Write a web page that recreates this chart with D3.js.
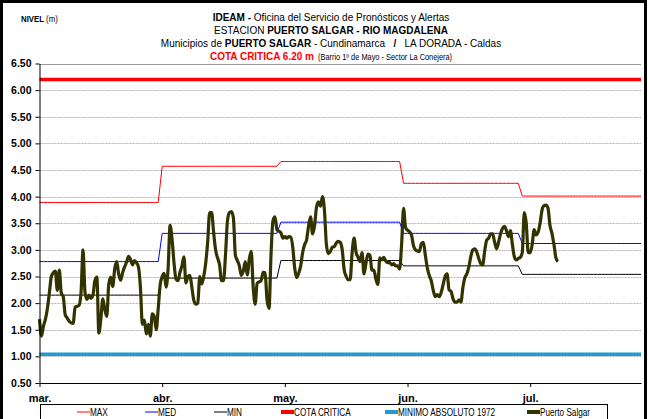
<!DOCTYPE html>
<html>
<head>
<meta charset="utf-8">
<script src="https://cdn.jsdelivr.net/npm/d3@7"></script>
<style>
  body { margin: 0; background: #fff; }
  svg { display: block; font-family: Arial, "Liberation Sans", sans-serif; }
</style>
</head>
<body>
<div id="chart"></div>
<script>
// monthly reference levels (m)
const months = ['mar.', 'abr.', 'may.', 'jun.', 'jul.'];
const maxLevels = [3.89, 4.57, 4.66, 4.25, 4.01];
const medLevels = [2.78, 3.31, 3.52, 3.31, 3.12];
const minLevels = [2.15, 2.47, 2.80, 2.70, 2.54];
const cotaCritica = 6.20;
const minimoAbsoluto = 1.04;
const yTicks = [0.5, 1, 1.5, 2, 2.5, 3, 3.5, 4, 4.5, 5, 5.5, 6, 6.5];

// Puerto Salgar readings, two a day from 1 March
const salgarLevels = [
  1.70, 1.38, 1.57, 1.70, 1.90, 2.20, 2.50, 2.57, 2.60, 2.24, 2.62, 2.19, 2.12, 1.78, 1.72, 1.66, 1.63, 1.62, 1.92, 1.94,
  1.96, 2.20, 3.00, 2.20, 2.07, 2.15, 2.09, 2.15, 2.42, 2.49, 1.44, 1.70, 2.08, 1.88, 1.75, 2.35, 2.49, 2.31, 2.64, 2.78,
  2.55, 2.43, 2.57, 2.68, 2.77, 2.88, 2.82, 2.72, 2.80, 2.76, 2.68, 2.30, 1.60, 1.68, 1.42, 1.60, 1.38, 1.80, 1.75, 1.50,
  1.90, 2.35, 2.50, 2.56, 2.30, 2.65, 3.46, 3.20, 2.75, 2.45, 2.42, 2.58, 2.70, 2.87, 2.38, 2.50, 2.52, 2.30, 2.05, 1.98,
  2.00, 2.50, 2.36, 2.50, 2.75, 3.15, 3.70, 3.70, 3.33, 3.00, 2.85, 2.72, 2.42, 2.42, 2.90, 3.55, 3.70, 3.72, 3.60, 2.90,
  2.80, 2.70, 2.52, 2.60, 2.78, 2.53, 2.82, 2.97, 2.30, 1.98, 2.37, 2.40, 2.42, 2.58, 2.57, 2.06, 1.90, 2.90, 3.55, 3.62,
  3.38, 3.35, 3.32, 3.22, 3.25, 3.22, 3.25, 3.24, 3.05, 2.65, 2.48, 2.56, 2.70, 2.95, 3.10, 3.19, 3.45, 3.62, 3.30, 3.45,
  3.80, 3.90, 3.82, 4.00, 3.75, 3.10, 2.93, 2.97, 3.05, 3.06, 3.13, 3.16, 3.14, 3.00, 2.62, 2.50, 2.44, 2.44, 2.95, 3.22,
  2.95, 2.86, 2.78, 2.95, 2.55, 2.75, 2.92, 2.90, 2.62, 2.62, 2.45, 2.35, 2.85, 2.81, 2.86, 2.79, 2.76, 2.76, 2.72, 2.74,
  2.70, 2.70, 2.64, 3.10, 3.78, 3.42, 3.37, 3.34, 3.28, 3.08, 3.00, 2.98, 2.97, 3.12, 3.14, 2.90, 2.66, 2.52, 2.42, 2.24,
  2.12, 2.16, 2.12, 2.20, 2.35, 2.50, 2.55, 2.25, 2.22, 2.08, 2.02, 2.02, 2.06, 2.02, 2.30, 2.48, 2.55, 2.68, 2.88, 3.00,
  3.02, 2.96, 2.84, 2.74, 2.72, 2.98, 3.18, 3.22, 3.30, 3.30, 3.15, 3.02, 3.14, 3.30, 3.40, 3.44, 3.36, 3.25, 3.36, 3.10,
  2.87, 2.81, 2.84, 2.86, 2.95, 3.70, 3.50, 2.95, 2.95, 3.10, 3.38, 3.28, 3.33, 3.50, 3.75, 3.83, 3.84, 3.78, 3.46, 3.31,
  3.10, 2.85, 2.78
];

const width = 648;
const height = 419;
const margins = {left: 39.5, right: 7, top: 63.5, bottom: 36};

const start = new Date(2011, 2, 1);
const end = new Date(2011, 6, 31);

const svg = d3.select('#chart')
  .append('svg')
  .attr('width', width)
  .attr('height', height);

// outer frame
svg.append('rect')
  .attr('x', 1.5).attr('y', 1.5)
  .attr('width', width - 4).attr('height', height + 20)
  .attr('fill', 'none').attr('stroke', '#000').attr('stroke-width', 3);

const x = d3.scaleTime()
  .domain([start, end])
  .range([margins.left, width - margins.right]);

const y = d3.scaleLinear()
  .domain([0.5, 6.5])
  .range([height - margins.bottom, margins.top]);

// grid lines
svg.append('g')
  .selectAll('line')
  .data(yTicks.filter((d) => d > 0.5))
  .join('line')
  .attr('x1', margins.left).attr('x2', width - margins.right)
  .attr('y1', (d) => Math.round(y(d)) + 0.5).attr('y2', (d) => Math.round(y(d)) + 0.5)
  .attr('stroke', (d) => (d === 6.5 ? '#999' : '#b4b4b4'))
  .attr('stroke-dasharray', (d) => (d === 6.5 ? null : '2,1'))
  .attr('stroke-width', 1);

// monthly step series built from the monthly values
const days = d3.timeDay.range(start, d3.timeDay.offset(end, 1));
const monthly = (vals) => days.map((d) => ({date: d, v: vals[d.getMonth() - 2]}));

const line = d3.line().x((d) => x(d.date)).y((d) => y(d.v));

const drawLine = (data, color, w, curve) => {
  svg.append('path')
    .datum(data)
    .attr('fill', 'none')
    .attr('stroke', color)
    .attr('stroke-width', w)
    .attr('stroke-linejoin', 'round')
    .attr('d', line.curve(curve || d3.curveLinear)(data));
};

drawLine(monthly(maxLevels), '#ff0000', 1);
drawLine(monthly(medLevels), '#0000ff', 1);
drawLine(monthly(minLevels), '#000000', 1);
drawLine(days.map((d) => ({date: d, v: cotaCritica})), '#ff0000', 3.5);
drawLine(days.map((d) => ({date: d, v: minimoAbsoluto})), '#1f9bd1', 3.5);

const salgar = salgarLevels.map((v, i) => ({date: d3.timeHour.offset(start, 12 * i), v}));
drawLine(salgar, '#333300', 3.2, d3.curveMonotoneX);

// axes
const yAxis = svg.append('g')
  .attr('transform', `translate(${margins.left},0)`)
  .call(d3.axisLeft(y).tickValues(yTicks).tickFormat(d3.format('.2f')).tickSize(4).tickSizeOuter(0));

const tickDates = months.map((m, i) => d3.timeDay.offset(start, 31 * i));
const xAxis = svg.append('g')
  .attr('transform', `translate(0,${height - margins.bottom})`)
  .call(d3.axisBottom(x).tickValues(tickDates).tickFormat((d, i) => months[i]).tickSize(4).tickSizeOuter(0));

svg.selectAll('.domain, .tick line').attr('stroke', '#000');
yAxis.selectAll('text')
  .attr('font-size', '10.5px').attr('font-weight', 'bold')
  .attr('font-family', 'Arial, sans-serif').attr('fill', '#000').attr('x', -8);
xAxis.selectAll('text')
  .attr('font-size', '11px').attr('font-weight', 'bold')
  .attr('font-family', 'Arial, sans-serif').attr('fill', '#000').attr('dy', '1.1em');

// titles (condensed like Arial Narrow)
const cx = 331;
const squeeze = 0.87;
const title = (yy, parts, size = 11.5) => {
  const t = svg.append('text')
    .attr('transform', `translate(${cx},${yy}) scale(${squeeze},1)`)
    .attr('text-anchor', 'middle')
    .attr('font-size', size + 'px');
  parts.forEach(([txt, bold, color, fs]) => {
    t.append('tspan')
      .text(txt)
      .attr('font-weight', bold ? 'bold' : 'normal')
      .attr('fill', color || '#000')
      .attr('font-size', fs ? fs + 'px' : null);
  });
};

const nb = '\u00a0';
title(21, [['IDEAM - ', true], ['Oficina del Servicio de Pronósticos y Alertas', false]]);
title(34, [['ESTACION ', false], ['PUERTO SALGAR - RIO MAGDALENA', true]]);
title(47, [['Municipios de ', false], ['PUERTO SALGAR', true], [' - Cundinamarca' + nb + nb + nb, false], ['/', true], [nb + nb + nb + 'LA DORADA - Caldas', false]]);
title(60, [['COTA CRITICA 6.20 m', true, '#ff0000'], [nb + nb + '(Barrio 1º de Mayo - Sector La Conejera)', false, '#000', 8.5]]);

const nivel = svg.append('text')
  .attr('transform', 'translate(21,22) scale(0.87,1)')
  .attr('font-size', '9px');
nivel.append('tspan').text('NIVEL ').attr('font-weight', 'bold');
nivel.append('tspan').text('(m)');

// legend
const legendItems = [
  {label: 'MAX', color: '#ff0000', w: 1, x0: 77},
  {label: 'MED', color: '#0000ff', w: 1, x0: 145},
  {label: 'MIN', color: '#000000', w: 1, x0: 214},
  {label: 'COTA CRITICA', color: '#ff0000', w: 4, x0: 281},
  {label: 'MINIMO ABSOLUTO 1972', color: '#1f9bd1', w: 4, x0: 385},
  {label: 'Puerto Salgar', color: '#333300', w: 4, x0: 527},
];

const legend = svg.append('g');
legend.append('rect')
  .attr('x', 40.5).attr('y', 404.5)
  .attr('width', 567).attr('height', 30)
  .attr('fill', '#fff').attr('stroke', '#000').attr('stroke-width', 1);

const li = legend.selectAll('g.item')
  .data(legendItems)
  .join('g')
  .attr('class', 'item');

li.append('line')
  .attr('x1', (d) => d.x0).attr('x2', (d) => d.x0 + 13)
  .attr('y1', 412).attr('y2', 412)
  .attr('stroke', (d) => d.color).attr('stroke-width', (d) => d.w);

li.append('text')
  .attr('transform', (d) => `translate(${d.x0 + 13},415.5) scale(0.82,1)`)
  .attr('font-size', '10px')
  .text((d) => d.label);
</script>
</body>
</html>
